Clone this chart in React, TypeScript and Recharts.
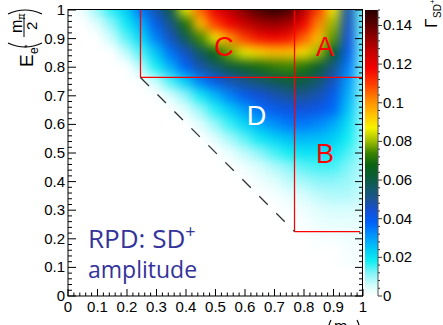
import { ScatterChart, Scatter, XAxis, YAxis, ReferenceDot, BarChart, Bar } from "recharts";

// grid of the 2D histogram (bin centres)
const xBins = [0, 0.05, 0.1, 0.15, 0.2, 0.25, 0.3, 0.35, 0.4, 0.45, 0.5, 0.55, 0.6, 0.65, 0.7, 0.75, 0.8, 0.85, 0.9, 0.95, 1];
const yBins = [1, 0.95, 0.9, 0.85, 0.8, 0.75, 0.7, 0.65, 0.6, 0.55, 0.5, 0.45, 0.4, 0.35, 0.3, 0.25, 0.2, 0.15];

// Γ_SD+, one row per yBins entry
const gammaRows: number[][] = [
    [0, 0.002, 0.010, 0.017, 0.024, 0.036, 0.048, 0.060, 0.086, 0.106, 0.120, 0.128, 0.136, 0.143, 0.147, 0.143, 0.128, 0.110, 0.088, 0.048, 0.013],
    [0, 0, 0.004, 0.011, 0.019, 0.028, 0.040, 0.052, 0.070, 0.094, 0.110, 0.118, 0.126, 0.131, 0.133, 0.130, 0.118, 0.102, 0.080, 0.046, 0.013],
    [0, 0, 0, 0.006, 0.014, 0.022, 0.034, 0.046, 0.058, 0.074, 0.088, 0.100, 0.110, 0.116, 0.118, 0.116, 0.106, 0.094, 0.076, 0.044, 0.013],
    [0, 0, 0, 0, 0.007, 0.015, 0.025, 0.036, 0.046, 0.057, 0.068, 0.078, 0.086, 0.091, 0.094, 0.094, 0.090, 0.080, 0.064, 0.040, 0.013],
    [0, 0, 0, 0, 0, 0.008, 0.018, 0.028, 0.038, 0.048, 0.055, 0.061, 0.065, 0.069, 0.072, 0.074, 0.071, 0.063, 0.052, 0.035, 0.012],
    [0, 0, 0, 0, 0, 0, 0.006, 0.015, 0.024, 0.034, 0.041, 0.047, 0.051, 0.055, 0.058, 0.061, 0.060, 0.055, 0.046, 0.031, 0.012],
    [0, 0, 0, 0, 0, 0, 0, 0.005, 0.011, 0.019, 0.027, 0.034, 0.040, 0.044, 0.047, 0.050, 0.050, 0.047, 0.040, 0.028, 0.011],
    [0, 0, 0, 0, 0, 0, 0, 0, 0.004, 0.010, 0.017, 0.024, 0.030, 0.036, 0.040, 0.042, 0.043, 0.041, 0.037, 0.025, 0.011],
    [0, 0, 0, 0, 0, 0, 0, 0, 0, 0.004, 0.010, 0.016, 0.022, 0.028, 0.032, 0.035, 0.035, 0.033, 0.029, 0.021, 0.010],
    [0, 0, 0, 0, 0, 0, 0, 0, 0, 0, 0.004, 0.009, 0.014, 0.019, 0.023, 0.026, 0.027, 0.026, 0.024, 0.018, 0.010],
    [0, 0, 0, 0, 0, 0, 0, 0, 0, 0, 0, 0.003, 0.007, 0.011, 0.015, 0.018, 0.020, 0.020, 0.019, 0.015, 0.009],
    [0, 0, 0, 0, 0, 0, 0, 0, 0, 0, 0, 0, 0.002, 0.005, 0.008, 0.011, 0.014, 0.015, 0.015, 0.012, 0.008],
    [0, 0, 0, 0, 0, 0, 0, 0, 0, 0, 0, 0, 0, 0.002, 0.004, 0.007, 0.009, 0.011, 0.011, 0.010, 0.007],
    [0, 0, 0, 0, 0, 0, 0, 0, 0, 0, 0, 0, 0, 0, 0.001, 0.003, 0.005, 0.007, 0.008, 0.008, 0.006],
    [0, 0, 0, 0, 0, 0, 0, 0, 0, 0, 0, 0, 0, 0, 0, 0.001, 0.002, 0.004, 0.005, 0.005, 0.004],
    [0, 0, 0, 0, 0, 0, 0, 0, 0, 0, 0, 0, 0, 0, 0, 0, 0.001, 0.002, 0.003, 0.003, 0.003],
    [0, 0, 0, 0, 0, 0, 0, 0, 0, 0, 0, 0, 0, 0, 0, 0, 0, 0.001, 0.001, 0.002, 0.002],
    [0, 0, 0, 0, 0, 0, 0, 0, 0, 0, 0, 0, 0, 0, 0, 0, 0, 0, 0, 0.001, 0.001],
];

const axisTicks = [0, 0.1, 0.2, 0.3, 0.4, 0.5, 0.6, 0.7, 0.8, 0.9, 1];
const zTicks = [0, 0.02, 0.04, 0.06, 0.08, 0.1, 0.12, 0.14];
const zMax = 0.148;

// region boundaries and labels
const regionLines = [
    [{ x: 0.2457, y: 0.764 }, { x: 0.2457, y: 1 }],
    [{ x: 0.2457, y: 0.764 }, { x: 1, y: 0.764 }],
    [{ x: 0.7678, y: 0.2255 }, { x: 0.7678, y: 1 }],
    [{ x: 0.7678, y: 0.2255 }, { x: 0.99, y: 0.2255 }],
];
const phaseSpaceEdge = [{ x: 0.2457, y: 0.764 }, { x: 0.7678, y: 0.2255 }];
const regionLabels = [
    { name: "A", x: 0.871, y: 0.874, color: "#ff0000" },
    { name: "B", x: 0.871, y: 0.5, color: "#ff0000" },
    { name: "C", x: 0.529, y: 0.874, color: "#ff0000" },
    { name: "D", x: 0.639, y: 0.633, color: "#ffffff" },
];

const FONT = "'Liberation Sans', Arial, sans-serif";
const PLOT_W = 295;
const PLOT_H = 286;
const CELL_W = PLOT_W * 0.05 + 1;
const CELL_H = PLOT_H * 0.05 + 1;

// ROOT-like rainbow palette
const PALETTE: [number, string][] = [
    [0, "#ffffff"],
    [0.005, "#d8fdfd"],
    [0.012, "#80f4f8"],
    [0.018, "#10eef2"],
    [0.024, "#00ccf6"],
    [0.031, "#0098fc"],
    [0.038, "#0060f8"],
    [0.044, "#1450d8"],
    [0.05, "#1c5494"],
    [0.056, "#145a66"],
    [0.062, "#0a5c34"],
    [0.068, "#0a6410"],
    [0.074, "#3a8400"],
    [0.08, "#9cbc00"],
    [0.087, "#f8f400"],
    [0.094, "#ffc000"],
    [0.102, "#ff8400"],
    [0.11, "#ff3a00"],
    [0.118, "#f40000"],
    [0.126, "#c80000"],
    [0.134, "#900000"],
    [0.141, "#580000"],
    [0.148, "#280000"],
];

const hex = (c: string) => [1, 3, 5].map((i) => parseInt(c.slice(i, i + 2), 16));

function heatColor(v: number) {
    if (v <= PALETTE[0][0]) return PALETTE[0][1];
    for (let i = 1; i < PALETTE.length; i++) {
        const [v1, c1] = PALETTE[i];
        if (v <= v1) {
            const [v0, c0] = PALETTE[i - 1];
            const t = (v - v0) / (v1 - v0);
            const a = hex(c0);
            const b = hex(c1);
            const rgb = a.map((k, j) => Math.round(k + (b[j] - k) * t));
            return `rgb(${rgb.join(",")})`;
        }
    }
    return PALETTE[PALETTE.length - 1][1];
}

const cells = gammaRows.flatMap((row, i) => row.map((g, j) => ({ x: xBins[j], y: yBins[i], g })));

const minorTicks = Array.from({ length: 51 }, (_, i) => i / 50);
const zMinor = Array.from({ length: 38 }, (_, i) => Math.round(i * 4) / 1000);

const isMajor = (v: number) => axisTicks.some((t) => Math.abs(t - v) < 1e-6);
const fmtTick = (v: number) => (v === 0 ? "0" : v === 1 ? "1" : v.toFixed(1));

function BottomTick({ x, y, payload }: any) {
    const major = isMajor(payload.value);
    return (
        <g>
            <line x1={x} x2={x} y1={y} y2={y - (major ? 7 : 3.5)} stroke="#000" />
            {major && (
                <text x={x} y={y + 16} textAnchor="middle" fontSize={15} fontFamily={FONT} fill="#000">
                    {fmtTick(payload.value)}
                </text>
            )}
        </g>
    );
}

function TopTick({ x, y, payload }: any) {
    const major = isMajor(payload.value);
    return <line x1={x} x2={x} y1={y} y2={y + (major ? 7 : 3.5)} stroke="#000" />;
}

function LeftTick({ x, y, payload }: any) {
    const major = isMajor(payload.value);
    return (
        <g>
            <line x1={x} x2={x + (major ? 8 : 4)} y1={y} y2={y} stroke="#000" />
            {major && (
                <text x={x - 3} y={y + 5} textAnchor="end" fontSize={15} fontFamily={FONT} fill="#000">
                    {fmtTick(payload.value)}
                </text>
            )}
        </g>
    );
}

function RightTick({ x, y, payload }: any) {
    const major = isMajor(payload.value);
    return <line x1={x} x2={x - (major ? 8 : 4)} y1={y} y2={y} stroke="#000" />;
}

function ZTick({ x, y, payload }: any) {
    const v = payload.value;
    const major = zTicks.some((t) => Math.abs(t - v) < 1e-6);
    return (
        <g>
            <line x1={x} x2={x + (major ? 4 : 2)} y1={y} y2={y} stroke="#333" />
            {major && (
                <text x={x + 5} y={y + 5} fontSize={15} fontFamily={FONT} fill="#000">
                    {v === 0 ? "0" : String(Math.round(v * 100) / 100)}
                </text>
            )}
        </g>
    );
}

const HeatCell = (p: any) => (
    <rect x={p.cx - CELL_W / 2} y={p.cy - CELL_H / 2} width={CELL_W} height={CELL_H} fill={heatColor(p.payload.g)} />
);
const NoDot = () => <g />;

export default function App() {
    return (
        <div style={{ position: "absolute", left: 0, top: 0, width: 443, height: 325, background: "#fff", overflow: "hidden" }}>
            <style>{`.heat-layer { filter: url(#heatBlur); }`}</style>
            <div style={{ position: "absolute", left: 0, top: 0 }}>
                <ScatterChart width={443} height={325} margin={{ top: 9, right: 79, bottom: 4, left: 0 }}>
                    <defs>
                        <filter id="heatBlur" x="-5%" y="-5%" width="110%" height="110%" colorInterpolationFilters="sRGB">
                            <feGaussianBlur stdDeviation="5.5" />
                            <feComponentTransfer>
                                <feFuncA type="table" tableValues="0 1 1 1" />
                            </feComponentTransfer>
                        </filter>
                    </defs>
                    <XAxis xAxisId="top" orientation="top" type="number" domain={[0, 1]} ticks={minorTicks} interval={0}
                        height={1} tickSize={0} tickMargin={0} tickLine={false} tick={TopTick} axisLine={false} allowDataOverflow />
                    <XAxis type="number" dataKey="x" domain={[0, 1]} ticks={minorTicks} interval={0}
                        height={25} tickSize={0} tickMargin={0} tickLine={false} tick={BottomTick} axisLine={false} allowDataOverflow />
                    <YAxis type="number" dataKey="y" domain={[0, 1]} ticks={minorTicks} interval={0}
                        width={68} tickSize={0} tickMargin={0} tickLine={false} tick={LeftTick} axisLine={false} allowDataOverflow />
                    <YAxis yAxisId="right" orientation="right" type="number" domain={[0, 1]} ticks={minorTicks} interval={0}
                        width={1} tickSize={0} tickMargin={0} tickLine={false} tick={RightTick} axisLine={false} allowDataOverflow />
                    <Scatter data={cells} shape={HeatCell} isAnimationActive={false} className="heat-layer" />
                    {regionLines.map((seg, i) => (
                        <Scatter key={i} data={seg} shape={NoDot} line={{ stroke: "#ff0000", strokeWidth: 1.25 }} isAnimationActive={false} />
                    ))}
                    <Scatter data={phaseSpaceEdge} shape={NoDot} line={{ stroke: "#333", strokeWidth: 1.3, strokeDasharray: "12 12" }} isAnimationActive={false} />
                    {regionLabels.map((l) => (
                        <ReferenceDot key={l.name} x={l.x} y={l.y} r={0} fill="none" stroke="none"
                            label={{ value: l.name, position: "center", fill: l.color, fontSize: 27, fontFamily: FONT }} />
                    ))}
                </ScatterChart>
            </div>

            {/* palette axis */}
            <div style={{ position: "absolute", left: 0, top: 0 }}>
                <BarChart width={443} height={325} data={[{ name: "z", top: zMax }]} barCategoryGap={0}
                    margin={{ top: 10, right: 64, bottom: 29, left: 365 }}>
                    <defs>
                        <linearGradient id="zGrad" x1="0" y1="1" x2="0" y2="0">
                            {PALETTE.map(([v, c]) => (
                                <stop key={v} offset={v / zMax} stopColor={c} />
                            ))}
                        </linearGradient>
                    </defs>
                    <XAxis dataKey="name" hide />
                    <YAxis orientation="right" type="number" domain={[0, zMax]} ticks={zMinor} interval={0} width={1}
                        tickSize={0} tickMargin={0} tickLine={false} tick={ZTick} axisLine={{ stroke: "#555" }} />
                    <Bar dataKey="top" fill="url(#zGrad)" isAnimationActive={false} />
                </BarChart>
            </div>

            {/* frame, titles and annotation */}
            <svg width={443} height={325} style={{ position: "absolute", left: 0, top: 0, pointerEvents: "none" }}>
                <rect x={68} y={9.5} width={294.5} height={286.5} fill="none" stroke="#000" strokeWidth={1} />
                <g fontFamily={FONT} fill="#000">
                    <g transform="translate(33,67) rotate(-90)">
                        <text x={0} y={0} fontSize={19}>E</text>
                        <text x={13} y={5} fontSize={12}>e</text>
                        <text x={19} y={-3} fontSize={9}>*</text>
                        <text x={34} y={-11} fontSize={16}>m</text>
                        <text x={47} y={-8} fontSize={10}>π</text>
                        <text x={37} y={4} fontSize={15}>2</text>
                    </g>
                    <path d="M 8 43 Q 25 51 42 43" fill="none" stroke="#000" strokeWidth={1.2} />
                    <path d="M 8 14 Q 25 6 42 14" fill="none" stroke="#000" strokeWidth={1.2} />
                    <line x1={24} x2={24} y1={15} y2={37} stroke="#000" strokeWidth={1} />

                    <g transform="translate(437,28) rotate(-90)">
                        <text x={0} y={0} fontSize={17}>Γ</text>
                        <text x={10} y={4} fontSize={10}>SD</text>
                        <text x={24} y={-2} fontSize={8}>+</text>
                    </g>

                    <path d="M 331 320 Q 325 332 331 344" fill="none" stroke="#000" strokeWidth={1.2} />
                    <path d="M 357 320 Q 363 332 357 344" fill="none" stroke="#000" strokeWidth={1.2} />
                    <text x={334} y={332} fontSize={16}>m</text>
                    <text x={347} y={335} fontSize={10}>π</text>
                </g>
                <g fontFamily="'Open Sans', sans-serif" fill="#333399">
                    <text x={88} y={248} fontSize={26}>
                        RPD: SD<tspan dy={-10} fontSize={18}>+</tspan>
                    </text>
                    <text x={88} y={278} fontSize={23}>amplitude</text>
                </g>
            </svg>
        </div>
    );
}
